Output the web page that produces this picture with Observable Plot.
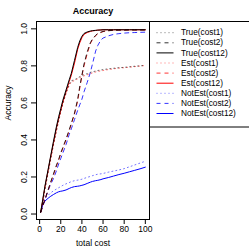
<!DOCTYPE html>
<html><head><meta charset="utf-8">
<script src="https://cdn.jsdelivr.net/npm/d3@7"></script>
<script src="https://cdn.jsdelivr.net/npm/@observablehq/plot@0.6"></script>
<style>body{margin:0;background:#fff;} svg{font-family:"Liberation Sans",Arial,sans-serif;}</style>
</head><body><div id="chart"></div>
<script>
const costs = [1,3,5,8,10,13,16,18,20,22,25,28,30,33,36,38,40,42,45,48,50,53,55,58,60,65,70,75,80,85,90,95,100];

const trueCost1   = [0.01,0.065,0.135,0.225,0.285,0.375,0.455,0.505,0.555,0.60,0.655,0.70,0.72,0.725,0.735,0.742,0.748,0.752,0.758,0.765,0.768,0.772,0.775,0.778,0.78,0.784,0.787,0.79,0.792,0.795,0.798,0.80,0.803];
const trueCost2   = [0.01,0.045,0.08,0.13,0.165,0.215,0.265,0.295,0.33,0.36,0.405,0.455,0.49,0.545,0.62,0.69,0.75,0.81,0.875,0.925,0.945,0.965,0.975,0.982,0.986,0.99,0.992,0.993,0.993,0.994,0.994,0.994,0.994];
const trueCost12  = [0.01,0.08,0.15,0.24,0.30,0.39,0.475,0.525,0.57,0.615,0.67,0.725,0.76,0.83,0.90,0.935,0.96,0.975,0.983,0.988,0.99,0.992,0.993,0.994,0.995,0.995,0.995,0.995,0.995,0.995,0.995,0.995,0.995];
const estCost1    = [0.01,0.06,0.13,0.22,0.28,0.37,0.45,0.50,0.55,0.595,0.65,0.695,0.715,0.72,0.73,0.737,0.742,0.746,0.752,0.758,0.762,0.767,0.77,0.773,0.775,0.78,0.784,0.788,0.79,0.793,0.796,0.799,0.802];
const estCost2    = [0.01,0.043,0.078,0.128,0.162,0.21,0.26,0.29,0.325,0.355,0.40,0.45,0.485,0.54,0.61,0.68,0.745,0.80,0.865,0.92,0.942,0.963,0.973,0.98,0.985,0.99,0.992,0.993,0.993,0.994,0.994,0.994,0.994];
const estCost12   = [0.01,0.075,0.145,0.235,0.295,0.38,0.465,0.515,0.56,0.605,0.66,0.715,0.75,0.815,0.89,0.925,0.952,0.97,0.98,0.986,0.989,0.991,0.993,0.994,0.995,0.995,0.995,0.995,0.995,0.995,0.995,0.995,0.995];
const notEstCost1 = [0.01,0.06,0.085,0.10,0.112,0.125,0.135,0.142,0.148,0.155,0.163,0.17,0.175,0.18,0.183,0.185,0.188,0.192,0.198,0.203,0.207,0.212,0.215,0.217,0.219,0.226,0.232,0.238,0.245,0.255,0.265,0.275,0.285];
const notEstCost2 = [0.01,0.04,0.075,0.125,0.155,0.19,0.235,0.27,0.30,0.33,0.375,0.43,0.46,0.51,0.56,0.59,0.62,0.66,0.71,0.765,0.81,0.88,0.91,0.94,0.95,0.962,0.97,0.974,0.977,0.979,0.98,0.981,0.982];
const notEstCost12= [0.01,0.05,0.07,0.085,0.094,0.105,0.115,0.12,0.123,0.125,0.13,0.138,0.143,0.148,0.15,0.152,0.155,0.158,0.165,0.172,0.176,0.18,0.182,0.186,0.19,0.197,0.205,0.213,0.22,0.228,0.236,0.244,0.253];

const seriesNames  = ["True(cost1)","True(cost2)","True(cost12)","Est(cost1)","Est(cost2)","Est(cost12)","NotEst(cost1)","NotEst(cost2)","NotEst(cost12)"];
const seriesValues = [trueCost1,trueCost2,trueCost12,estCost1,estCost2,estCost12,notEstCost1,notEstCost2,notEstCost12];
const seriesColors = ["black","black","black","#ff0000","#ff0000","#ff0000","#0000ff","#0000ff","#0000ff"];
const seriesDash   = ["1,3","4,4",null,"1,3","4,4",null,"1,3","4,4",null];
const seriesOpacity= [0.55,0.8,1,0.55,0.8,1,0.55,0.8,1];
const xTicks = [0,20,40,60,80,100];
const yTicks = [0,0.2,0.4,0.6,0.8,1.0];

const rows = seriesNames.flatMap((name,i)=>costs.map((c,j)=>({series:name,cost:c,acc:seriesValues[i][j]})));
const order = [6,7,8,3,4,5,0,1,2];
const lineMarks = order.map(i=>Plot.line(rows.filter(d=>d.series===seriesNames[i]),{
  x:"cost", y:"acc", stroke:seriesColors[i], strokeWidth:1, strokeOpacity:seriesOpacity[i],
  strokeDasharray: seriesDash[i] || undefined
}));

const chart = Plot.plot({
  width:249, height:249,
  marginLeft:36, marginRight:100, marginTop:21, marginBottom:30,
  style:{fontFamily:'"Liberation Sans",Arial,sans-serif', fontSize:"8.5px", background:"white", overflow:"visible", color:"black"},
  x:{domain:[-2.96,103.96]},
  y:{domain:[-0.0296,1.0396]},
  marks:[
    ...lineMarks,
    Plot.frame({stroke:"black"}),
    Plot.axisX({ticks:xTicks, tickSize:5, tickFormat:()=>"", label:null}),
    Plot.axisY({ticks:yTicks, tickSize:5, tickFormat:()=>"", label:null}),
    Plot.text(xTicks,{x:d=>d, text:d=>String(d), frameAnchor:"bottom", dy:10, lineAnchor:"middle", textAnchor:"middle"}),
    Plot.text(yTicks,{y:d=>d, text:d=>d.toFixed(1), frameAnchor:"left", dx:-12, rotate:-90, textAnchor:"middle", lineAnchor:"middle"}),
    Plot.text(["total cost"],{frameAnchor:"bottom", dy:24, lineAnchor:"middle"}),
    Plot.text(["Accuracy"],{frameAnchor:"left", dx:-28, rotate:-90, lineAnchor:"middle"}),
    Plot.text(["Accuracy"],{frameAnchor:"top", dy:-10, lineAnchor:"middle", fontWeight:"bold", fontSize:9})
  ]
});
document.getElementById("chart").appendChild(chart);

// legend
const svg = d3.select(chart);
const lg = svg.append("g").attr("text-anchor","start");
lg.append("rect").attr("x",149.5).attr("y",21.5).attr("width",120).attr("height",105.5)
  .attr("fill","white").attr("stroke","black");
seriesNames.forEach((name,i)=>{
  const y = 32.7 + i*10.1;
  lg.append("line").attr("x1",156.5).attr("x2",173.5).attr("y1",y).attr("y2",y)
    .attr("stroke",seriesColors[i]).attr("stroke-width",1).attr("stroke-opacity",seriesOpacity[i])
    .attr("stroke-dasharray",seriesDash[i]);
  lg.append("text").attr("x",181).attr("y",y).attr("dy","0.32em").attr("text-anchor","start")
    .attr("font-size","8.3px").attr("fill","black").text(name);
});
</script></body></html>
